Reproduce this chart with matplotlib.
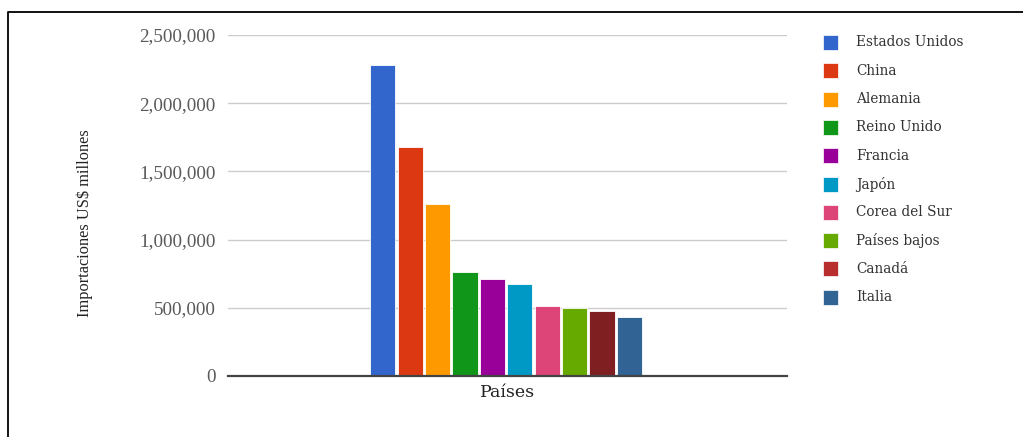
import matplotlib
matplotlib.use("Agg")
import matplotlib.pyplot as plt
from matplotlib.patches import Rectangle
from matplotlib.lines import Line2D
from matplotlib.ticker import FuncFormatter

# Importaciones por país (millones de US$)
paises = ["Estados Unidos", "China", "Alemania", "Reino Unido", "Francia",
          "Japón", "Corea del Sur", "Países bajos", "Canadá", "Italia"]
importaciones = [2280000, 1681000, 1259000, 760000, 711000,
                 672000, 513000, 496000, 476000, 435000]
colores_barras = ["#3366cc", "#dc3912", "#ff9900", "#109618", "#990099",
                  "#0099c6", "#dd4477", "#66aa00", "#7f1f22", "#316395"]
colores_leyenda = ["#3366cc", "#dc3912", "#ff9900", "#109618", "#990099",
                   "#0099c6", "#dd4477", "#66aa00", "#b82e2e", "#316395"]
ticks_y = [0, 500000, 1000000, 1500000, 2000000, 2500000]

W, H = 1023, 437
fig = plt.figure(figsize=(W / 100, H / 100), dpi=100)
fig.patch.set_facecolor("white")

# axes placement in pixels
left, right, top, bottom = 228, 787, 35, 376
ax = fig.add_axes([left / W, 1 - bottom / H, (right - left) / W, (bottom - top) / H])

n = len(paises)
paso = 27.4  # px per bar slot
posiciones = [i - (n - 1) / 2 for i in range(n)]
ax.bar(posiciones, importaciones, width=0.92, color=colores_barras,
       edgecolor="white", linewidth=0.6, zorder=3)

half = (right - left) / 2 / paso
ax.set_xlim(-half + 0.05, half + 0.05)
ax.set_ylim(0, 2500000)
ax.set_yticks(ticks_y)
ax.yaxis.set_major_formatter(FuncFormatter(lambda v, p: f"{int(v):,}"))
ax.set_xticks([])
ax.grid(axis="y", color="#cccccc", linewidth=1, zorder=0)
for s in ["top", "right", "left"]:
    ax.spines[s].set_visible(False)
ax.spines["bottom"].set_color("#444444")
ax.spines["bottom"].set_linewidth(1.6)
ax.spines["bottom"].set_zorder(4)
ax.tick_params(axis="y", length=0, pad=9, labelsize=13.8, labelcolor="#5a5a5a")
for lab in ax.get_yticklabels():
    lab.set_fontfamily("Liberation Serif")

ax.set_xlabel("Países", fontfamily="DejaVu Serif", fontsize=12.5,
              color="#222222", labelpad=6)
fig.text(85 / W, 1 - 223 / H, "Importaciones US$ millones", rotation=90,
         ha="center", va="center", fontfamily="Liberation Serif",
         fontsize=11.8, color="#222222")

# legend
y0, dy = 42.5, 28.3
for i, (nombre, c) in enumerate(zip(paises, colores_leyenda)):
    yc = y0 + i * dy
    fig.patches.append(Rectangle((823 / W, 1 - (yc + 7.5) / H), 15 / W, 15 / H,
                                 transform=fig.transFigure, facecolor=c,
                                 edgecolor="white", linewidth=0.5))
    fig.text(856 / W, 1 - yc / H, nombre, ha="left", va="center",
             fontfamily="DejaVu Serif", fontsize=9.8, color="#333333")

# frame
fig.lines.append(Line2D([8 / W, 8 / W, 1.0], [0.0, 1 - 12 / H, 1 - 12 / H],
                        transform=fig.transFigure, color="black", linewidth=1.3))

fig.savefig("out.png", dpi=100)
